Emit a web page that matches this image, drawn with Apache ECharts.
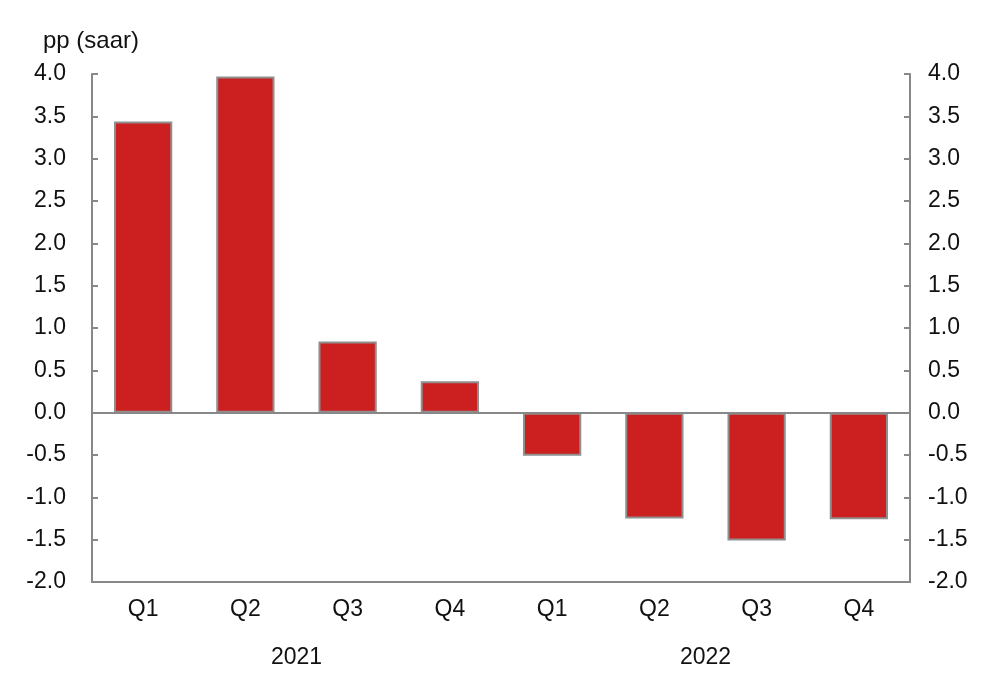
<!DOCTYPE html>
<html>
<head>
<meta charset="utf-8">
<script src="https://cdn.jsdelivr.net/npm/echarts@6/dist/echarts.min.js"></script>
<style>html,body{margin:0;padding:0;background:#fff;}#c{width:1006px;height:686px;}</style>
</head>
<body>
<div id="c"></div>
<script>
var quarters = ['Q1','Q2','Q3','Q4','Q1','Q2','Q3','Q4'];
var years = ['2021','2022'];
var values = [3.44, 3.97, 0.84, 0.37, -0.51, -1.25, -1.51, -1.26];
var yMin = -2.0, yMax = 4.0, yStep = 0.5;
var unitLabel = 'pp (saar)';

var chart = echarts.init(document.getElementById('c'), null, {renderer:'canvas'});
var font = 'Liberation Sans, Arial, Helvetica, sans-serif';
var axisGray = '#888888';
var fs = 23;
function yAxisDef(pos){
  return {
    type:'value', position:pos, min:yMin, max:yMax, interval:yStep,
    axisLine:{show:true, lineStyle:{color:axisGray, width:2}},
    axisTick:{show:true, inside:true, length:6, lineStyle:{color:axisGray, width:2}},
    axisLabel:{color:'#111', fontSize:fs, fontFamily:font, margin:pos==='left'?26:18,
      formatter:function(v){return v.toFixed(1);}},
    splitLine:{show:false}
  };
}
chart.setOption({
  animation:false,
  backgroundColor:'#ffffff',
  title:{text:unitLabel, left:38, top:24, textStyle:{color:'#111', fontSize:24, fontWeight:'normal', fontFamily:font}},
  grid:{left:92, right:96, top:74, bottom:104},
  xAxis:[
    {type:'category', data:quarters, position:'bottom',
     axisLine:{show:true, onZero:false, lineStyle:{color:axisGray, width:2}},
     axisTick:{show:false},
     axisLabel:{color:'#111', fontSize:fs, fontFamily:font, margin:16}},
    {type:'category', data:years, position:'bottom', offset:48,
     axisLine:{show:false}, axisTick:{show:false},
     axisLabel:{color:'#111', fontSize:fs, fontFamily:font, margin:16}}
  ],
  yAxis:[yAxisDef('left'), yAxisDef('right')],
  series:[{
    type:'bar', data:values, xAxisIndex:0, yAxisIndex:0, barWidth:'57%',
    itemStyle:{color:'#cc1f1f', borderColor:'#8f8f8f', borderWidth:2},
    markLine:{silent:true, symbol:'none', label:{show:false},
      lineStyle:{color:axisGray, width:2, type:'solid'},
      data:[{yAxis:0}]}
  }]
});
</script>
</body>
</html>
